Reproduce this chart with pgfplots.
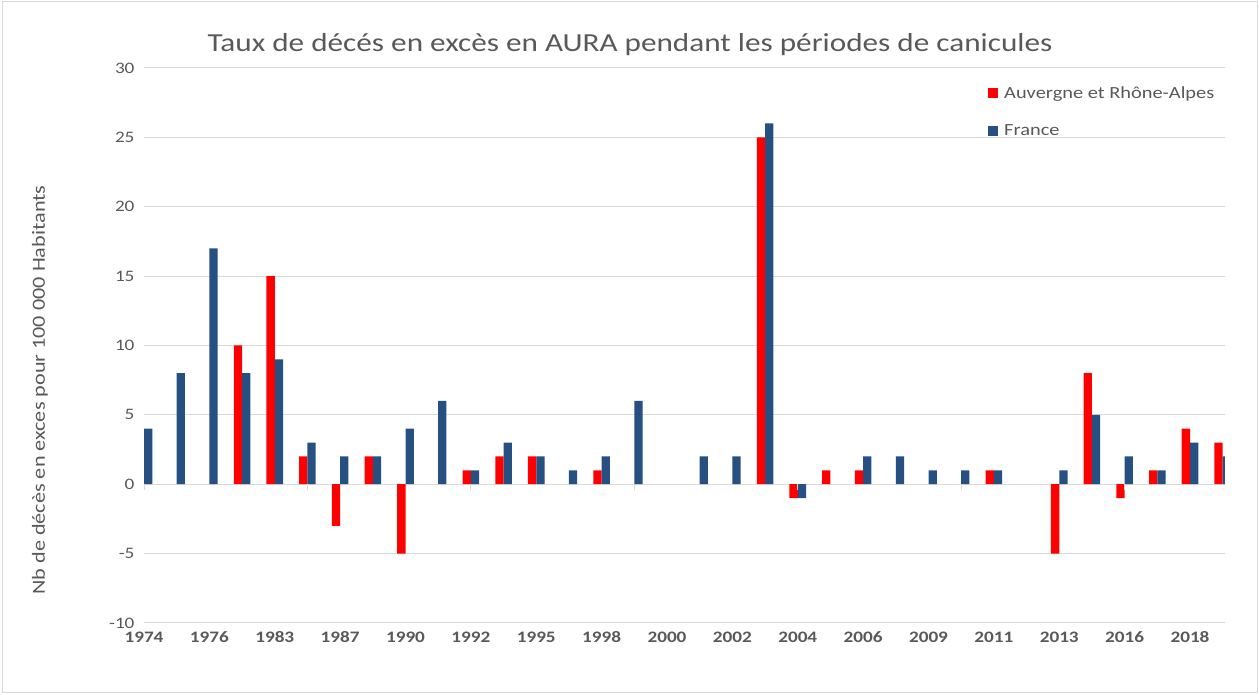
\documentclass[border=0pt]{standalone}
\usepackage{pgfplots}
\pgfplotsset{compat=1.18}
\usepackage{pgfplotstable}
\usepackage{fontspec}
\setmainfont{Carlito}[FakeStretch=1.2]
\definecolor{txt}{HTML}{595959}
\definecolor{gridc}{HTML}{D9D9D9}
\definecolor{frblue}{HTML}{264F82}
\definecolor{aured}{HTML}{FF0000}

\pgfplotstableread{
k aura france
0 nan 4
1 nan 8
2 nan 17
3 10 8
4 15 9
5 2 3
6 -3 2
7 2 2
8 -5 4
9 nan 6
10 1 1
11 2 3
12 2 2
13 nan 1
14 1 2
15 nan 6
16 nan nan
17 nan 2
18 nan 2
19 25 26
20 -1 -1
21 1 nan
22 1 2
23 nan 2
24 nan 1
25 nan 1
26 1 1
27 nan nan
28 -5 1
29 8 5
30 -1 2
31 1 1
32 4 3
33 3 2
}\data

\begin{document}
\begin{tikzpicture}[x=1pt,y=1pt]
\path[use as bounding box] (0,0) rectangle (1259,695);
\draw[gridc, line width=1pt] (2,2) rectangle (1257,693);
\begin{axis}[
  at={(144pt,72pt)}, anchor=south west,
  width=1081pt, height=555pt, scale only axis,
  xmin=0, xmax=33.07, ymin=-10, ymax=30,
  ytick={-10,-5,...,30},
  xtick={0,2,...,32},
  xticklabels={1974,1976,1983,1987,1990,1992,1995,1998,2000,2002,2004,2006,2009,2011,2013,2016,2018},
  axis line style={draw=none},
  major tick length=0pt,
  ymajorgrids, grid style={gridc, line width=1pt},
  /pgf/number format/assume math mode=true,
  tick label style={text=txt},
  yticklabel style={font=\fontsize{16}{19}\selectfont, xshift=-6pt},
  xticklabel style={font=\fontsize{16}{19}\selectfont\bfseries, yshift=-5pt},
  ybar=0pt, bar width=0.254,
  legend style={draw=none, fill=none, at={(0.778,0.974)}, anchor=north west,
    font=\fontsize{17}{20}\selectfont, text=txt, row sep=21pt},
  legend cell align=left,
  legend image code/.code={\fill[#1] (0pt,-4.5pt) rectangle (10pt,5pt); \path (14pt,0pt);},
]
\addplot[fill=aured, draw=none] table[x=k,y=aura] {\data};
\addplot[fill=frblue, draw=none] table[x=k,y=france] {\data};
\legend{Auvergne et Rhône-Alpes, France}
\pgfplotsinvokeforeach{0,5,10,15,20,25,30}{\draw[gridc, line width=1pt] (axis cs:#1,0) -- ([yshift=-6pt]axis cs:#1,0);}
\end{axis}
\node[text=txt, font=\fontsize{26}{30}\selectfont] at (630,650) {Taux de décés en excès en AURA pendant les périodes de canicules};
\node[text=txt, font=\fontsize{18.5}{22}\selectfont, rotate=90] at (40,305) {Nb de décès en exces pour 100 000 Habitants};
\end{tikzpicture}
\end{document}
